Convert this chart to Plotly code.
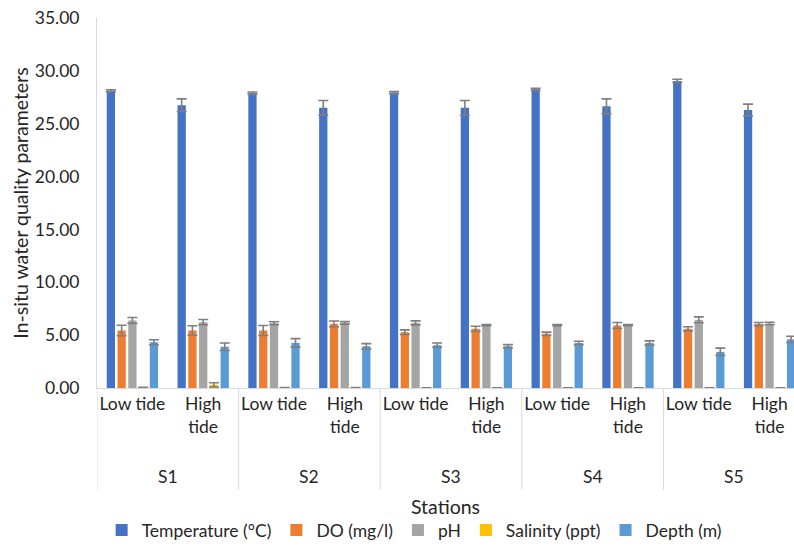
import plotly.graph_objects as go

stations = ["S1", "S2", "S3", "S4", "S5"]
tides = ["Low tide", "High<br>tide"]

temperature = [28.10, 26.75, 27.90, 26.50, 27.95, 26.50, 28.25, 26.65, 29.05, 26.30]
temperature_err = [0.10, 0.60, 0.10, 0.70, 0.10, 0.70, 0.10, 0.70, 0.15, 0.55]
do = [5.44, 5.44, 5.44, 6.07, 5.28, 5.60, 5.13, 5.91, 5.60, 6.05]
do_err = [0.50, 0.45, 0.47, 0.27, 0.22, 0.24, 0.16, 0.28, 0.20, 0.15]
ph = [6.39, 6.23, 6.13, 6.16, 6.16, 5.95, 5.95, 5.95, 6.45, 6.10]
ph_err = [0.28, 0.25, 0.14, 0.12, 0.19, 0.05, 0.05, 0.05, 0.28, 0.12]
salinity = [0.05, 0.30, 0.03, 0.03, 0.02, 0.02, 0.02, 0.02, 0.02, 0.02]
salinity_err = [0.02, 0.20, 0.02, 0.02, 0.01, 0.01, 0.01, 0.01, 0.01, 0.01]
depth = [4.33, 3.90, 4.27, 3.95, 4.05, 3.95, 4.26, 4.26, 3.42, 4.60]
depth_err = [0.24, 0.35, 0.40, 0.25, 0.20, 0.15, 0.16, 0.20, 0.35, 0.30]

series_names = ["Temperature (°C)", "DO (mg/l)", "pH", "Salinity (ppt)", "Depth (m)"]
series_values = [temperature, do, ph, salinity, depth]
series_errors = [temperature_err, do_err, ph_err, salinity_err, depth_err]
series_colors = ["#4472C4", "#ED7D31", "#A5A5A5", "#FFC000", "#5B9BD5"]

# category index positions
labels = [(s, t) for s in stations for t in tides]
xpos = list(range(len(labels)))
tick_text = [t for s, t in labels]

FONT = "Lato, 'Liberation Sans', sans-serif"
TXT = "#262626"

fig = go.Figure()
for name, vals, errs, col in zip(series_names, series_values, series_errors, series_colors):
    fig.add_trace(go.Bar(
        x=xpos, y=vals, name=name, marker=dict(color=col, line=dict(width=0)),
        error_y=dict(type="data", array=errs, visible=True, color="#7F7F7F",
                     thickness=1.6, width=5),
    ))

n_per = len(tides)
# station dividers and labels
for k, s in enumerate(stations):
    left = k * n_per - 0.5
    fig.add_shape(type="line", xref="x", yref="paper", x0=left, x1=left,
                  y0=0, y1=-0.275, line=dict(color="#D9D9D9", width=1))
    fig.add_annotation(x=k * n_per + (n_per - 1) / 2, y=-0.24, xref="x", yref="paper",
                       text=s, showarrow=False, yanchor="middle",
                       font=dict(family=FONT, size=17.5, color=TXT))
fig.add_shape(type="line", xref="x", yref="paper",
              x0=len(labels) - 0.5, x1=len(labels) - 0.5,
              y0=0, y1=-0.275, line=dict(color="#D9D9D9", width=1))

fig.update_layout(
    width=794, height=549,
    margin=dict(l=97, r=0, t=18, b=161, autoexpand=False),
    paper_bgcolor="white", plot_bgcolor="white",
    barmode="group", bargap=0.24, bargroupgap=0.23,
    font=dict(family=FONT, size=17.5, color=TXT),
    showlegend=True,
    legend=dict(orientation="h", x=0.455, xanchor="center", y=-0.384, yanchor="middle",
                font=dict(family=FONT, size=17.5, color=TXT),
                itemclick=False, itemdoubleclick=False, traceorder="normal"),
    xaxis=dict(
        range=[-0.5, 9.345], tickmode="array", tickvals=xpos, ticktext=tick_text,
        automargin=False,
        showgrid=False, zeroline=False, showline=True, linecolor="#D9D9D9", linewidth=1,
        ticks="", tickfont=dict(family=FONT, size=17.5, color=TXT),
        title=dict(text="Stations", font=dict(family=FONT, size=19.5, color=TXT), standoff=64),
    ),
    yaxis=dict(
        range=[0, 35], dtick=5, tickformat=".2f", automargin=False,
        showgrid=False, zeroline=False, showline=True, linecolor="#D9D9D9", linewidth=1,
        ticks="", ticklabelstandoff=13, tickfont=dict(family=FONT, size=17.5, color=TXT),
        title=dict(text="In-situ water quality parameters",
                   font=dict(family=FONT, size=19.5, color=TXT), standoff=0),
    ),
)

fig.write_html("out.html", config={"displayModeBar": False},
               post_script="document.body.style.margin='0px';document.body.style.overflow='hidden';")
